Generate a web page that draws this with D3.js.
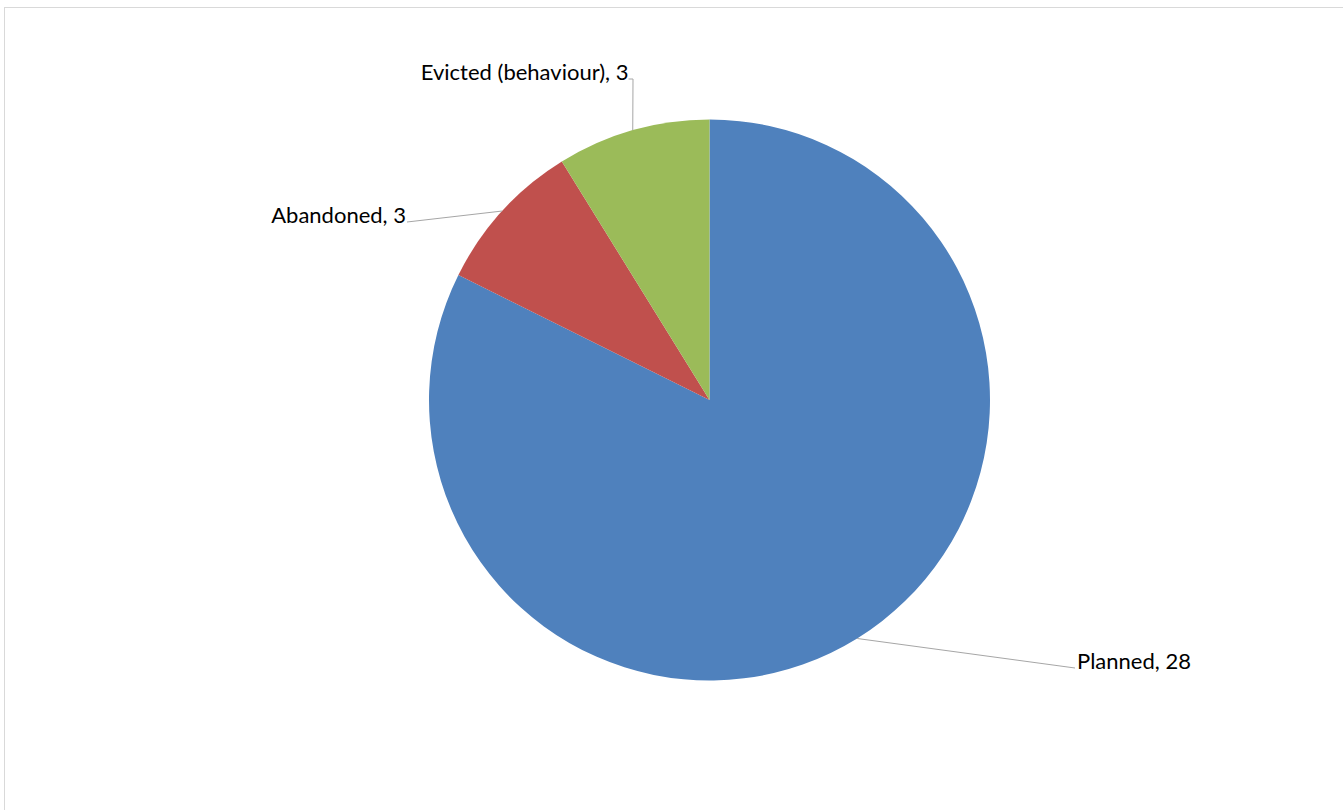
<!DOCTYPE html>
<html>
<head>
<meta charset="utf-8">
<script src="https://cdn.jsdelivr.net/npm/d3@7"></script>
<style>
  html, body { margin: 0; padding: 0; background: #fff; }
  svg { display: block; }
</style>
</head>
<body>
<svg id="chart" width="1343" height="810"></svg>
<script>
// ---- data ----
const categories = ["Planned", "Abandoned", "Evicted (behaviour)"];
const values = [28, 3, 3];
const colors = ["#4F81BD", "#C0504D", "#9BBB59"];

// ---- layout (label anchor offsets relative to pie center) ----
const labelAnchors = [
  { dx: 365.5, dy: 268, anchor: "start", elbow: false },
  { dx: -302.5, dy: -178, anchor: "end", elbow: false },
  { dx: -77, dy: -321, anchor: "end", elbow: true }
];

const W = 1343, H = 810;
const cx = 709.5, cy = 400, R = 280.5;

const svg = d3.select("#chart");

// outer chart border
svg.append("rect")
  .attr("x", 4.5).attr("y", 7.5)
  .attr("width", W + 20).attr("height", H + 20)
  .attr("fill", "none")
  .attr("stroke", "#d9d9d9")
  .attr("stroke-width", 1);

const data = categories.map((c, i) => ({ name: c, value: values[i], color: colors[i], lab: labelAnchors[i] }));

const pie = d3.pie().value(d => d.value).sort(null);
const arc = d3.arc().innerRadius(0).outerRadius(R);

const g = svg.append("g").attr("transform", `translate(${cx},${cy})`);
const arcs = pie(data);

g.selectAll("path.slice")
  .data(arcs)
  .enter().append("path")
  .attr("class", "slice")
  .attr("d", arc)
  .attr("fill", d => d.data.color);

// leader lines and labels
arcs.forEach(a => {
  const mid = (a.startAngle + a.endAngle) / 2;
  const px = R * Math.sin(mid), py = -R * Math.cos(mid);
  const L = a.data.lab;
  let pts;
  let tx, ty;
  if (L.elbow) {
    pts = [[px, py], [L.dx + 0.5, L.dy], [L.dx - 4, L.dy]];
    tx = L.dx - 4; ty = L.dy + 1;
  } else {
    pts = [[px, py], [L.dx, L.dy]];
    tx = L.anchor === "start" ? L.dx + 2 : L.dx - 1;
    ty = L.dy + 1;
  }
  g.append("path")
    .attr("d", d3.line()(pts))
    .attr("fill", "none")
    .attr("stroke", "#a6a6a6")
    .attr("stroke-width", 1);
  g.append("text")
    .attr("x", tx).attr("y", ty)
    .attr("text-anchor", L.anchor)
    .attr("font-family", "Lato, 'Open Sans', sans-serif")
    .attr("font-size", 22)
    .attr("fill", "#000")
    .text(`${a.data.name}, ${a.data.value}`);
});
</script>
</body>
</html>
